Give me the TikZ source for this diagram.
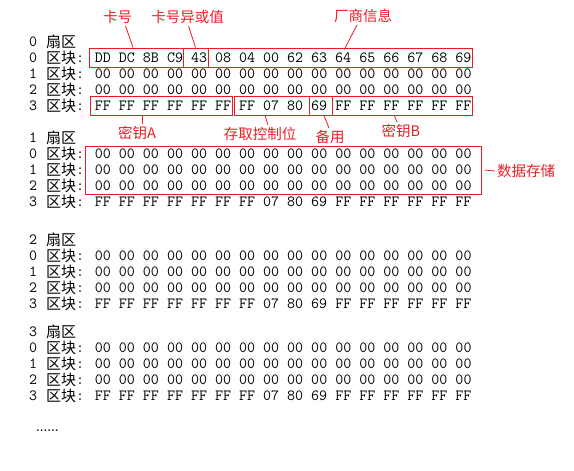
\documentclass[tikz,border=0pt]{standalone}
\usepackage{fontspec}
\usepackage{xcolor}
\usepackage{tikz}
\definecolor{red1} {RGB} {237, 28, 36}
\newfontfamily\hexfont{Latin Modern Mono}
\newfontfamily\cjkfont{Noto Sans CJK SC}
\usetikzlibrary{calc}
\newcommand{\idbytes}{: DD DC 8B C9 43 08 04 00 62 63 64 65 66 67 68 69}
\newcommand{\zerobytes}{: 00 00 00 00 00 00 00 00 00 00 00 00 00 00 00 00}
\newcommand{\trailbytes}{: FF FF FF FF FF FF FF 07 80 69 FF FF FF FF FF FF}
\tikzstyle{dump}=[
  x=1pt, y=-1pt, every node/.style={inner sep=0pt}
]
\tikzstyle{dumpnum}=[
  anchor=west, font=\hexfont\fontsize{15.56}{16}\selectfont
]
\tikzstyle{dumpcjk}=[
  anchor=west, font=\cjkfont\fontsize{15}{15}\selectfont
]
\tikzstyle{dumpbox}=[
  draw=red1, line width=1.0pt, minimum height=19pt
]
\tikzstyle{dumplbl}=[
  text=red1, inner sep=2pt, font=\cjkfont\fontsize{14.5}{14.5}\selectfont
]
\tikzstyle{dumpedge}=[
  draw=red1, line width=0.8pt
]

\begin{document}
\begin{tikzpicture}[dump]
    \useasboundingbox (0,0) rectangle (574,471);
    \foreach \s/\y/\first in {0/42/\idbytes, 1/138/\zerobytes, 2/240/\zerobytes, 3/332/\zerobytes} {
        \node (sec\s) [dumpnum] at (29,\y) {\s};
        \node (sec\s name) [dumpcjk] at (46,\y) {扇区};
        \foreach \r/\bytes in {0/\first, 1/\zerobytes, 2/\zerobytes, 3/\trailbytes} {
            \node (num\s\r) [dumpnum] at (29,{\y+16*(\r+1)}) {\r};
            \node (blk\s\r) [dumpcjk] at (46,{\y+16*(\r+1)}) {区块};
            \node (hex\s\r) [dumpnum] at (76,{\y+16*(\r+1)}) {\bytes};
        }
    }
    \node (more) [anchor=west, font=\bfseries\fontsize{12}{12}\selectfont] at (36,431) {......};
    % red frames
    \node (card box) [dumpbox, minimum width=94pt] at (136,57.5) {};
    \node (xor box) [dumpbox, minimum width=25pt] at (195.5,57.5) {};
    \node (vendor box) [dumpbox, minimum width=263.5pt] at (340.3,57.5) {};
    \node (keya box) [dumpbox, minimum width=142pt] at (161,105.5) {};
    \node (access box) [dumpbox, minimum width=75pt] at (271.5,105.5) {};
    \node (spare box) [dumpbox, minimum width=23pt] at (320.5,105.5) {};
    \node (keyb box) [dumpbox, minimum width=140.5pt] at (402.3,105.5) {};
    \node (data box) [dumpbox, minimum width=396pt, minimum height=48pt] at (283,170) {};
    % labels
    \node (card) [dumplbl] at (117.5,17) {卡号};
    \node (xor) [dumplbl] at (187.5,17) {卡号异或值};
    \node (vendor) [dumplbl] at (363,16) {厂商信息};
    \node (keya) [dumplbl] at (137,133) {密钥A};
    \node (access) [dumplbl] at (260,134) {存取控制位};
    \node (spare) [dumplbl] at (330,137) {备用};
    \node (keyb) [dumplbl] at (401,131) {密钥B};
    \node (data) [dumplbl, anchor=west] at (495,171) {数据存储};
    % leaders
    \draw [dumpedge] ([xshift=8]card.south) -- ([xshift=-3]card box.north);
    \draw [dumpedge] ([xshift=1]xor.south) -- (xor box.north);
    \draw [dumpedge] ([xshift=-6]vendor.south) -- ([xshift=4,yshift=-2]vendor box.north);
    \draw [dumpedge] ([xshift=-19]keya box.south) -- ([xshift=5]keya.north);
    \draw [dumpedge] ([xshift=-6.5]access box.south) -- ([xshift=8]access.north);
    \draw [dumpedge] ([xshift=3.5]spare box.south) -- ([xshift=-1]spare.north);
    \draw [dumpedge] ([xshift=-8]keyb box.south) -- ([xshift=-4]keyb.north);
    \draw [dumpedge] ([xshift=3]data box.east) -- (data.west);
\end{tikzpicture}
\end{document}
